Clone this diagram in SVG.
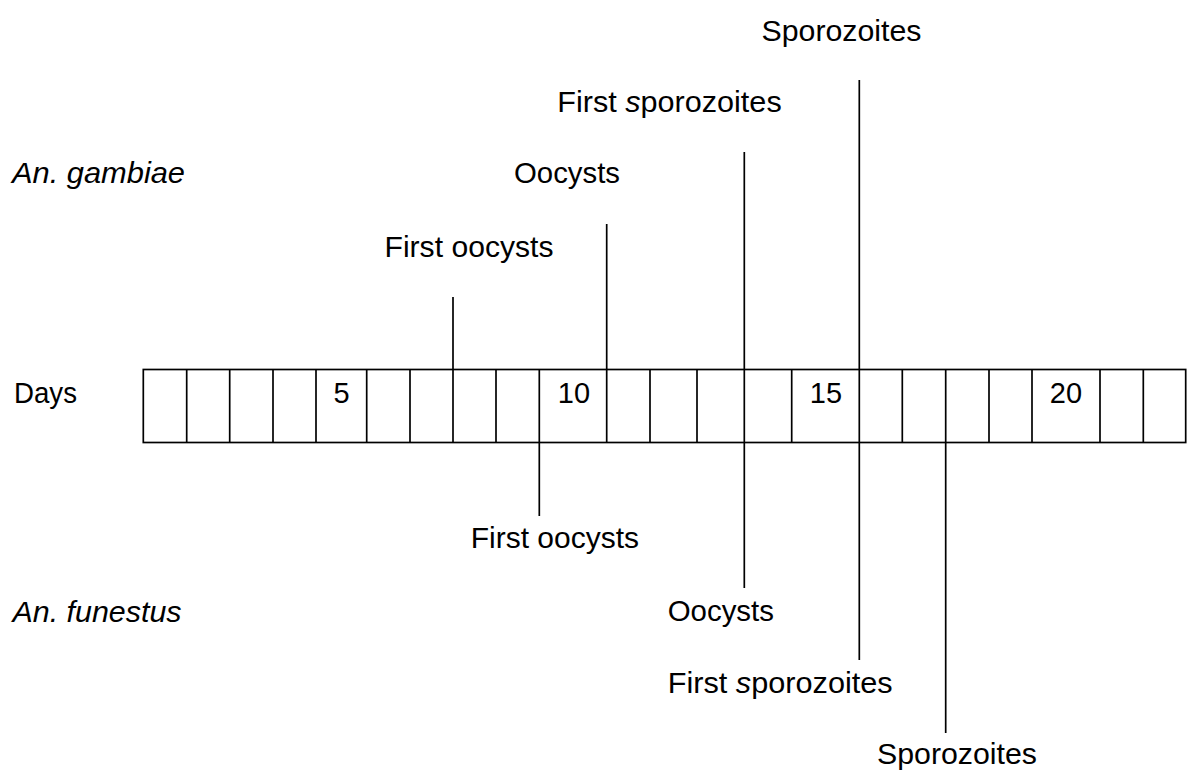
<svg xmlns="http://www.w3.org/2000/svg" width="1200" height="783" viewBox="0 0 1200 783">
<style>
text{font-family:"Liberation Sans",Arial,sans-serif;font-size:29px;fill:#000}
.it{font-style:italic}
.num{text-anchor:middle}
line{stroke:#000;stroke-width:1.7}
.grid{fill:none;stroke:#000;stroke-width:1.7}
</style>
<rect width="1200" height="783" fill="#fff"/>
<g id="labels-species">
<text id="gambiae" class="it" x="12" y="183" textLength="173" lengthAdjust="spacingAndGlyphs">An. gambiae</text>
<text id="funestus" class="it" x="12.5" y="621.5" textLength="169" lengthAdjust="spacingAndGlyphs">An. funestus</text>
<text id="days" x="14" y="402.7" textLength="63" lengthAdjust="spacingAndGlyphs">Days</text>
</g>
<g id="timeline">
<rect class="grid" x="143.3" y="369.5" width="1042.4" height="73"/>
<line x1="186.7" y1="369.5" x2="186.7" y2="442.5"/>
<line x1="229.7" y1="369.5" x2="229.7" y2="442.5"/>
<line x1="273" y1="369.5" x2="273" y2="442.5"/>
<line x1="316" y1="369.5" x2="316" y2="442.5"/>
<line x1="366.7" y1="369.5" x2="366.7" y2="442.5"/>
<line x1="410" y1="369.5" x2="410" y2="442.5"/>
<line x1="453" y1="369.5" x2="453" y2="442.5"/>
<line x1="496" y1="369.5" x2="496" y2="442.5"/>
<line x1="539.3" y1="369.5" x2="539.3" y2="442.5"/>
<line x1="606.7" y1="369.5" x2="606.7" y2="442.5"/>
<line x1="650" y1="369.5" x2="650" y2="442.5"/>
<line x1="697" y1="369.5" x2="697" y2="442.5"/>
<line x1="744.3" y1="369.5" x2="744.3" y2="442.5"/>
<line x1="791.7" y1="369.5" x2="791.7" y2="442.5"/>
<line x1="859.3" y1="369.5" x2="859.3" y2="442.5"/>
<line x1="902.3" y1="369.5" x2="902.3" y2="442.5"/>
<line x1="945.7" y1="369.5" x2="945.7" y2="442.5"/>
<line x1="989" y1="369.5" x2="989" y2="442.5"/>
<line x1="1032" y1="369.5" x2="1032" y2="442.5"/>
<line x1="1100" y1="369.5" x2="1100" y2="442.5"/>
<line x1="1143.3" y1="369.5" x2="1143.3" y2="442.5"/>
<text class="num" x="341.5" y="402.7">5</text>
<text class="num" x="574" y="402.7">10</text>
<text class="num" x="826" y="402.7">15</text>
<text class="num" x="1066" y="402.7">20</text>
</g>
<g id="connectors">
<line x1="453" y1="297" x2="453" y2="369.5"/>
<line x1="606.7" y1="224" x2="606.7" y2="369.5"/>
<line x1="744.3" y1="152" x2="744.3" y2="369.5"/>
<line x1="859.3" y1="80" x2="859.3" y2="369.5"/>
<line x1="539.3" y1="442.5" x2="539.3" y2="516"/>
<line x1="744.3" y1="442.5" x2="744.3" y2="588"/>
<line x1="859.3" y1="442.5" x2="859.3" y2="660"/>
<line x1="945.7" y1="442.5" x2="945.7" y2="733"/>
</g>
<g id="gambiae-events">
<text id="g-first-oocysts" x="384.5" y="256.5" textLength="169" lengthAdjust="spacingAndGlyphs">First oocysts</text>
<text id="g-oocysts" x="514" y="183" textLength="106" lengthAdjust="spacingAndGlyphs">Oocysts</text>
<text id="g-first-sporozoites" x="557.3" y="112.3" textLength="224.4" lengthAdjust="spacingAndGlyphs">First <tspan class="it">s</tspan>porozoites</text>
<text id="g-sporozoites" x="761.5" y="41" textLength="160" lengthAdjust="spacingAndGlyphs">Sporozoites</text>
</g>
<g id="funestus-events">
<text id="f-first-oocysts" x="470.7" y="548.3" textLength="168.3" lengthAdjust="spacingAndGlyphs">First oocysts</text>
<text id="f-oocysts" x="667.7" y="620.7" textLength="106.3" lengthAdjust="spacingAndGlyphs">Oocysts</text>
<text id="f-first-sporozoites" x="667.7" y="692.7" textLength="225" lengthAdjust="spacingAndGlyphs">First <tspan class="it">s</tspan>porozoites</text>
<text id="f-sporozoites" x="877" y="764" textLength="160" lengthAdjust="spacingAndGlyphs">Sporozoites</text>
</g>
</svg>
